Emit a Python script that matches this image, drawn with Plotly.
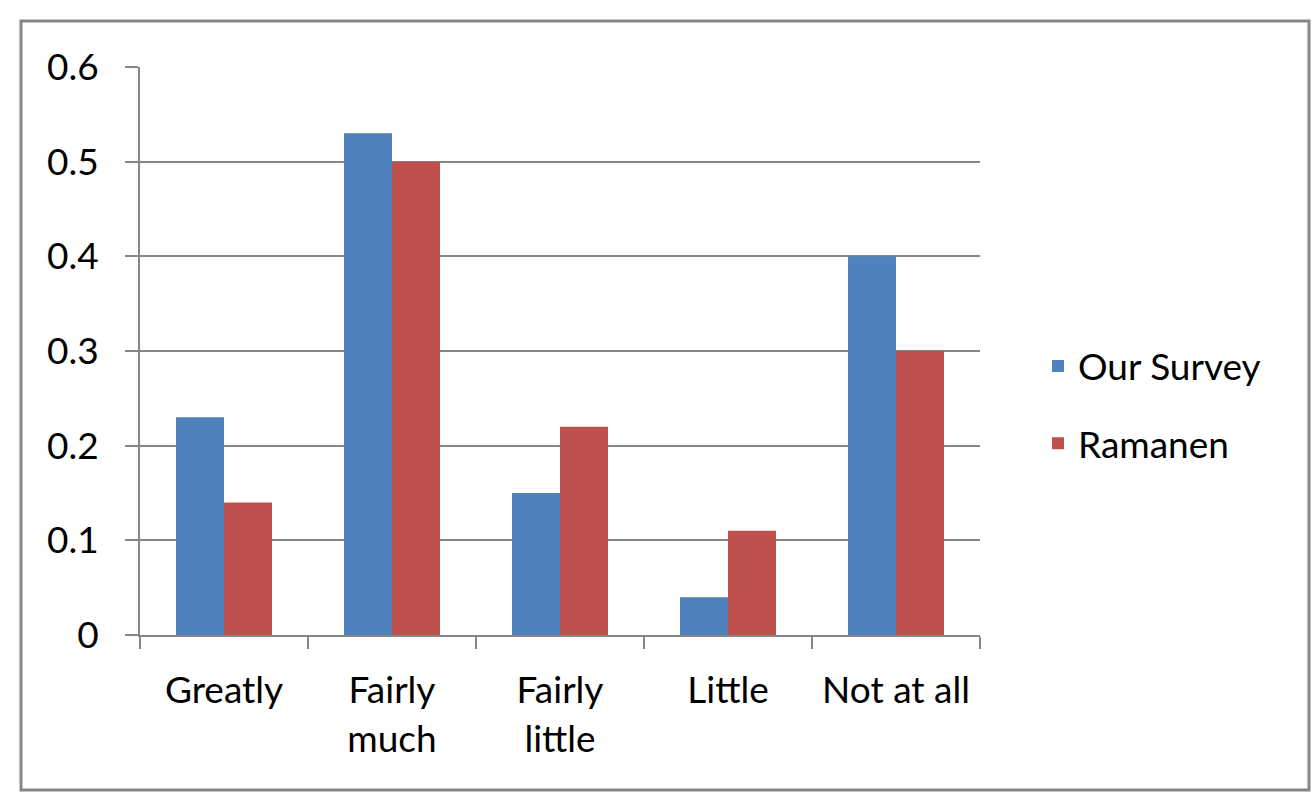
import plotly.graph_objects as go

categories = ["Greatly", "Fairly<br>much", "Fairly<br>little", "Little", "Not at all"]
our_survey = [0.23, 0.53, 0.15, 0.04, 0.40]
ramanen = [0.14, 0.50, 0.22, 0.11, 0.30]
y_ticks = [0, 0.1, 0.2, 0.3, 0.4, 0.5, 0.6]
y_tick_labels = ["0", "0.1", "0.2", "0.3", "0.4", "0.5", "0.6"]

FONT = "Lato"
FS = 37
GRAY = "#868686"

fig = go.Figure()
fig.add_trace(go.Bar(name="Our Survey", x=categories, y=our_survey,
                     marker=dict(color="#4F81BD", line=dict(width=0)),
                     legendgroup="a"))
fig.add_trace(go.Bar(name="Ramanen", x=categories, y=ramanen,
                     marker=dict(color="#C0504D", line=dict(width=0)),
                     legendgroup="b"))

W, H = 1312, 797
L, R, T, B = 140, 332, 67, 162
pw, ph = W - L - R, H - T - B

def px_x(p):
    return (p - L) / pw

def px_y(p):
    return (H - B - p) / ph

fig.update_layout(
    width=W, height=H,
    margin=dict(l=L, r=R, t=T, b=B, pad=0),
    paper_bgcolor="white", plot_bgcolor="white",
    font=dict(family=FONT, size=FS, color="black"),
    barmode="group", bargap=0.4286, bargroupgap=0,
    showlegend=True,
    legend=dict(x=px_x(1038), y=px_y(405), xanchor="left", yanchor="middle",
                traceorder="grouped", tracegroupgap=26,
                font=dict(family=FONT, size=FS, color="black"),
                bgcolor="rgba(0,0,0,0)"),
    xaxis=dict(showline=True, linecolor=GRAY, linewidth=2,
               ticks="outside", tickson="boundaries", ticklen=12, tickcolor=GRAY, tickwidth=2,
               showgrid=False, ticklabelstandoff=22,
               tickfont=dict(family=FONT, size=FS, color="black")),
    yaxis=dict(range=[0, 0.6], tickvals=y_ticks, ticktext=y_tick_labels,
               showline=True, linecolor=GRAY, linewidth=2,
               ticks="outside", ticklen=13, tickcolor=GRAY, tickwidth=2,
               showgrid=True, gridcolor=GRAY, gridwidth=2,
               zeroline=False, ticklabelstandoff=19,
               tickfont=dict(family=FONT, size=FS, color="black")),
    shapes=[dict(type="rect", xref="paper", yref="paper",
                 x0=px_x(21), x1=px_x(1309), y0=px_y(790), y1=px_y(21),
                 line=dict(color=GRAY, width=3), fillcolor="rgba(0,0,0,0)", layer="below")],
)

fig.write_html("out.html")
